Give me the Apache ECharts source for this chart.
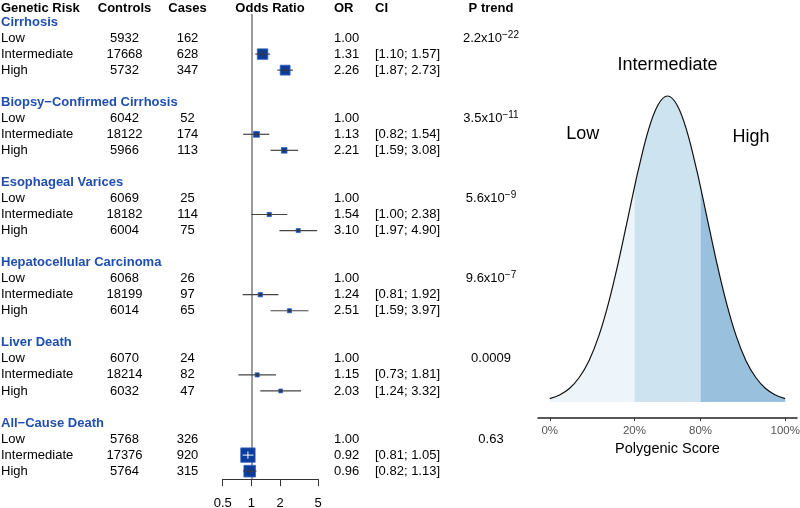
<!DOCTYPE html>
<html>
<head>
<meta charset="utf-8">
<script src="https://cdn.jsdelivr.net/npm/echarts@6/dist/echarts.min.js"></script>
<style>
html,body{margin:0;padding:0;background:#fff;}
#chart{width:800px;height:508px;}
</style>
</head>
<body>
<div id="chart"></div>
<script>
// ---------------- data ----------------
const groups = ['Cirrhosis', 'Biopsy\u2212Confirmed Cirrhosis', 'Esophageal Varices', 'Hepatocellular Carcinoma', 'Liver Death', 'All\u2212Cause Death'];
const riskLevels = ['Low', 'Intermediate', 'High'];
const controls = [[5932, 17668, 5732], [6042, 18122, 5966], [6069, 18182, 6004], [6068, 18199, 6014], [6070, 18214, 6032], [5768, 17376, 5764]];
const cases = [[162, 628, 347], [52, 174, 113], [25, 114, 75], [26, 97, 65], [24, 82, 47], [326, 920, 315]];
const oddsRatios = [[1.00, 1.31, 2.26], [1.00, 1.13, 2.21], [1.00, 1.54, 3.10], [1.00, 1.24, 2.51], [1.00, 1.15, 2.03], [1.00, 0.92, 0.96]];
const ciLower = [[null, 1.10, 1.87], [null, 0.82, 1.59], [null, 1.00, 1.97], [null, 0.81, 1.59], [null, 0.73, 1.24], [null, 0.81, 0.82]];
const ciUpper = [[null, 1.57, 2.73], [null, 1.54, 3.08], [null, 2.38, 4.90], [null, 1.92, 3.97], [null, 1.81, 3.32], [null, 1.05, 1.13]];
const pTrend = ['2.2x10^\u221222', '3.5x10^\u221211', '5.6x10^\u22129', '9.6x10^\u22127', '0.0009', '0.63'];
const forestTicks = [0.5, 1, 2, 5];
const forestTickLabels = ['0.5', '1', '2', '5'];
const headers = ['Genetic Risk', 'Controls', 'Cases', 'Odds Ratio', 'OR', 'CI', 'P trend'];

// density curve (standardised score, peak = 1)
const curveX = [-3, -2.75, -2.5, -2.25, -2, -1.75, -1.5, -1.25, -1, -0.8416, -0.75, -0.5, -0.25, 0, 0.25, 0.5, 0.75, 0.8416, 1, 1.25, 1.5, 1.75, 2, 2.25, 2.5, 2.75, 3];
const curveY = [0.011, 0.023, 0.044, 0.080, 0.135, 0.216, 0.325, 0.458, 0.607, 0.702, 0.755, 0.883, 0.969, 1, 0.969, 0.883, 0.755, 0.702, 0.607, 0.458, 0.325, 0.216, 0.135, 0.080, 0.044, 0.023, 0.011];
const cutPoints = [-3, -0.8416, 0.8416, 3];
const cutLabels = ['0%', '20%', '80%', '100%'];
const regionNames = ['Low', 'Intermediate', 'High'];

// ---------------- layout / style ----------------
const FONT = '"Liberation Sans", Arial, Helvetica, sans-serif';
const BLUE_TXT = '#1f4fae';
const rowsPerGroup = 5;
const nRows = groups.length * rowsPerGroup - 1; // 29 rows: indices 0..28
const colPos = { risk: 1, controls: 124.5, cases: 187.5, odds: 270, or: 334, ci: 375, p: 491 };
const headerRow = -0.85;
const regionColors = ['#edf4fa', '#cde3ef', '#99c0dd'];
const regionLabelPos = [[-2.16, 0.876], [0, 1.10], [2.13, 0.866]];

// ---------------- build table texts ----------------
const textItems = [];
function addText(x, row, text, opt) { textItems.push(Object.assign({ x: x, row: row, text: text }, opt || {})); }
const headAligns = ['left', 'center', 'center', 'center', 'left', 'left', 'center'];
const headKeys = ['risk', 'controls', 'cases', 'odds', 'or', 'ci', 'p'];
headers.forEach((h, i) => addText(colPos[headKeys[i]], headerRow, h, { align: headAligns[i], bold: true }));

const forestData = [];
groups.forEach((g, gi) => {
  const base = gi * rowsPerGroup;
  addText(colPos.risk, base, g, { align: 'left', bold: true, color: BLUE_TXT });
  riskLevels.forEach((lv, li) => {
    const row = base + 1 + li;
    addText(colPos.risk, row, lv, { align: 'left' });
    addText(colPos.controls, row, String(controls[gi][li]), { align: 'center' });
    addText(colPos.cases, row, String(cases[gi][li]), { align: 'center' });
    addText(colPos.or, row, oddsRatios[gi][li].toFixed(2), { align: 'left' });
    if (ciLower[gi][li] != null) {
      addText(colPos.ci, row, '[' + ciLower[gi][li].toFixed(2) + '; ' + ciUpper[gi][li].toFixed(2) + ']', { align: 'left' });
      const lo = ciLower[gi][li], hi = ciUpper[gi][li];
      const se = (Math.log(hi) - Math.log(lo)) / (2 * 1.96);
      forestData.push([Math.log2(oddsRatios[gi][li]), row, Math.log2(lo), Math.log2(hi), 0.955 / se]);
    }
    if (li === 0) {
      const parts = pTrend[gi].split('^');
      const txt = parts.length > 1 ? parts[0] + '{sup|' + parts[1] + '}' : parts[0];
      addText(colPos.p, row, txt, { align: 'center', rich: true });
    }
  });
});

// ---------------- curve segments ----------------
function segment(a, b) {
  const out = [];
  curveX.forEach((x, i) => { if (x >= a - 1e-9 && x <= b + 1e-9) out.push([x, curveY[i]]); });
  return out;
}
const curveAll = curveX.map((x, i) => [x, curveY[i]]);

const chart = echarts.init(document.getElementById('chart'), null, { renderer: 'canvas' });

const gridTop = 14, rowH = 16.04;
const gridH = rowH * nRows;

const regionSeries = regionNames.map((nm, i) => ({
  type: 'line', xAxisIndex: 2, yAxisIndex: 2, name: nm,
  data: segment(cutPoints[i], cutPoints[i + 1]),
  smooth: 0.35, symbol: 'none', lineStyle: { width: 0 },
  areaStyle: { color: regionColors[i], opacity: 1, origin: 0 },
  silent: true, z: 1
}));

const gridCommon = { containLabel: false, outerBoundsMode: 'none' };

const option = {
  animation: false,
  backgroundColor: '#ffffff',
  textStyle: { fontFamily: FONT },
  grid: [
    Object.assign({ left: 0, width: 520, top: gridTop, height: gridH }, gridCommon),
    Object.assign({ left: 222.7, width: 95.3, top: gridTop, height: gridH }, gridCommon),
    Object.assign({ left: 538, width: 259, top: 40, height: 378 }, gridCommon)
  ],
  xAxis: [
    { gridIndex: 0, type: 'value', min: 0, max: 520, show: false },
    {
      gridIndex: 1, type: 'value', position: 'bottom',
      min: Math.log2(forestTicks[0]), max: Math.log2(forestTicks[forestTicks.length - 1]),
      axisLine: { show: true, onZero: false, lineStyle: { color: '#333', width: 1 } },
      axisTick: { show: true, length: 7, lineStyle: { color: '#333', width: 1 }, customValues: forestTicks.map(v => Math.log2(v)) },
      axisLabel: {
        show: true, customValues: forestTicks.map(v => Math.log2(v)), margin: 18,
        fontSize: 13, color: '#000', fontFamily: FONT,
        formatter: v => { const i = forestTicks.findIndex(t => Math.abs(Math.log2(t) - v) < 1e-6); return i >= 0 ? forestTickLabels[i] : ''; }
      },
      splitLine: { show: false }
    },
    {
      gridIndex: 2, type: 'value', position: 'bottom', min: -3.3, max: 3.3,
      axisLine: { show: true, onZero: false, lineStyle: { color: '#222', width: 1.5 } },
      axisTick: { show: true, length: 3, lineStyle: { color: '#333', width: 1 }, customValues: cutPoints },
      axisLabel: {
        show: true, customValues: cutPoints, margin: 7, fontSize: 11.5, color: '#555', fontFamily: FONT,
        formatter: v => { const i = cutPoints.findIndex(t => Math.abs(t - v) < 1e-6); return i >= 0 ? cutLabels[i] : ''; }
      },
      splitLine: { show: false },
      name: 'Polygenic Score', nameLocation: 'middle', nameGap: 23,
      nameTextStyle: { fontSize: 14.5, color: '#000', fontFamily: FONT }
    }
  ],
  yAxis: [
    { gridIndex: 0, type: 'value', min: -0.5, max: nRows - 0.5, inverse: true, show: false },
    { gridIndex: 1, type: 'value', min: -0.5, max: nRows - 0.5, inverse: true, show: false },
    { gridIndex: 2, type: 'value', min: -0.0523, max: 1.183, show: false }
  ],
  series: [
    // table text
    {
      type: 'custom', xAxisIndex: 0, yAxisIndex: 0, clip: false, silent: true, z: 5,
      data: textItems.map(t => [t.x, t.row]),
      renderItem: function (params, api) {
        const t = textItems[params.dataIndex];
        const p = api.coord([api.value(0), api.value(1)]);
        const style = {
          text: t.text, x: p[0], y: p[1], textAlign: t.align, textVerticalAlign: 'middle',
          fill: t.color || '#000', fontSize: 13, fontFamily: FONT, fontWeight: t.bold ? 'bold' : 'normal'
        };
        if (t.rich) {
          style.lineHeight = 16;
          style.rich = { sup: { fontSize: 10, lineHeight: 10, verticalAlign: 'top', fill: '#000', fontFamily: FONT } };
        }
        return { type: 'text', style: style };
      }
    },
    // forest marks
    {
      type: 'custom', xAxisIndex: 1, yAxisIndex: 1, clip: false, silent: true, z: 6,
      data: forestData,
      renderItem: function (params, api) {
        const c = api.coord([api.value(0), api.value(1)]);
        const pl = api.coord([api.value(2), api.value(1)]);
        const ph = api.coord([api.value(3), api.value(1)]);
        const s = api.value(4);
        const inside = pl[0] >= c[0] - s / 2 && ph[0] <= c[0] + s / 2;
        const lc = inside ? '#ffffff' : '#3a3a3a';
        const tk = Math.max(3, s * 0.5);
        return {
          type: 'group', children: [
            { type: 'line', shape: { x1: pl[0], y1: c[1], x2: ph[0], y2: c[1] }, style: { stroke: '#444', lineWidth: 1.2 } },
            { type: 'rect', shape: { x: c[0] - s / 2, y: c[1] - s / 2, width: s, height: s }, style: { fill: '#0c3c9c', stroke: '#3a67c0', lineWidth: 0.8 } },
            { type: 'line', shape: { x1: Math.max(pl[0], c[0] - s / 2), y1: c[1], x2: Math.min(ph[0], c[0] + s / 2), y2: c[1] }, style: { stroke: lc, lineWidth: 1 } },
            { type: 'line', shape: { x1: c[0], y1: c[1] - tk / 2, x2: c[0], y2: c[1] + tk / 2 }, style: { stroke: lc, lineWidth: 1 } }
          ]
        };
      },
      markLine: {
        silent: true, symbol: 'none', label: { show: false },
        lineStyle: { color: '#7a7a7a', width: 1.5, type: 'solid' },
        data: [{ xAxis: 0 }]
      }
    },
    ...regionSeries,
    {
      type: 'line', xAxisIndex: 2, yAxisIndex: 2, name: 'curve',
      data: curveAll, smooth: 0.35, symbol: 'none',
      lineStyle: { color: '#111', width: 1.2 }, silent: true, z: 3
    },
    {
      type: 'custom', xAxisIndex: 2, yAxisIndex: 2, clip: false, silent: true, z: 5,
      data: regionLabelPos,
      renderItem: function (params, api) {
        const p = api.coord([api.value(0), api.value(1)]);
        return { type: 'text', style: { text: regionNames[params.dataIndex], x: p[0], y: p[1], textAlign: 'center', textVerticalAlign: 'middle', fill: '#000', fontSize: 18, fontFamily: FONT } };
      }
    }
  ]
};
chart.setOption(option);
</script>
</body>
</html>
